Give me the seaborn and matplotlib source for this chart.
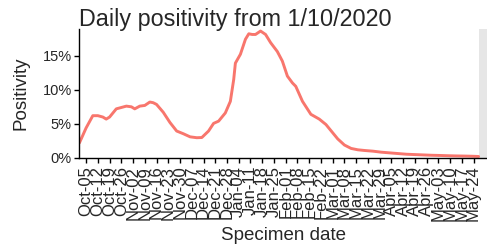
import matplotlib
matplotlib.use("Agg")
import matplotlib.pyplot as plt
import matplotlib.dates as mdates
import matplotlib.ticker as mticker
import seaborn as sns
import pandas as pd

# days after 2020-10-01 and the positivity (%)
day_offsets = [0, 4, 8, 11, 14, 16, 18, 22, 25, 28, 31, 33, 36, 39, 42, 44, 46,
               50, 54, 58, 62, 66, 70, 73, 77, 80, 83, 87, 90, 92, 93, 96, 99,
               101, 103, 105, 108, 111, 114, 118, 121, 124, 127, 129, 133, 138,
               143, 147, 151, 154, 158, 162, 166, 170, 175, 180, 185, 190, 195,
               200, 205, 210, 215, 220, 225, 230, 235, 238]
positivity = [2.2, 4.4, 6.2, 6.2, 6.0, 5.7, 6.0, 7.2, 7.4, 7.6, 7.5, 7.2, 7.6,
              7.7, 8.2, 8.1, 7.85, 6.7, 5.2, 3.95, 3.55, 3.1, 2.97, 3.0, 3.95,
              5.07, 5.4, 6.6, 8.3, 11.5, 13.9, 15.2, 17.4, 18.2, 18.1, 18.1,
              18.6, 18.1, 16.9, 15.6, 14.2, 12.0, 11.0, 10.5, 8.3, 6.4, 5.7,
              4.9, 3.7, 2.8, 1.9, 1.4, 1.2, 1.1, 1.0, 0.85, 0.75, 0.65, 0.55,
              0.5, 0.45, 0.4, 0.37, 0.33, 0.3, 0.28, 0.25, 0.22]

# weekly tick dates shown under the axis
tick_dates = pd.date_range("2020-10-05", "2021-05-24", freq="7D")

start = pd.Timestamp("2020-10-01")
df = pd.DataFrame({
    "date": [start + pd.Timedelta(days=d) for d in day_offsets],
    "positivity": positivity,
})

sns.set_theme(style="white")
plt.rcParams["font.family"] = ["Liberation Sans", "DejaVu Sans"]

fig = plt.figure(figsize=(4.87, 2.49), dpi=100)
ax = fig.add_axes([0.163, 0.3655, 0.837, 0.518])

ax.axvspan(pd.Timestamp("2021-05-27"), pd.Timestamp("2021-06-03"),
           color="#e6e6e6", lw=0, zorder=0)
sns.lineplot(data=df, x="date", y="positivity", color="#F8766D", lw=2.1, ax=ax)

ax.set_xlim(start, pd.Timestamp("2021-06-01"))
ax.set_ylim(0, 18.9)
ax.yaxis.set_major_locator(mticker.FixedLocator([0, 5, 10, 15]))
ax.yaxis.set_major_formatter(mticker.FuncFormatter(lambda v, p: f"{v:.0f}%"))
ax.set_xticks(list(tick_dates))
ax.xaxis.set_major_formatter(mdates.DateFormatter("%b-%d"))

for s in ["top", "right"]:
    ax.spines[s].set_visible(False)
for s in ["left", "bottom"]:
    ax.spines[s].set_color("black")
    ax.spines[s].set_linewidth(1.0)

ax.tick_params(axis="y", length=3.5, width=1, color="black", labelsize=10.5,
               pad=2, left=True)
ax.tick_params(axis="x", length=3.5, width=1, color="black", labelsize=12,
               pad=2, bottom=True, labelrotation=90)
ax.set_ylabel("Positivity", fontsize=13.5, labelpad=9)
ax.set_xlabel("Specimen date", fontsize=13.5, labelpad=4)
ax.set_title("Daily positivity from 1/10/2020", fontsize=16.8, loc="left", pad=2)

fig.savefig("out.png", dpi=100)
